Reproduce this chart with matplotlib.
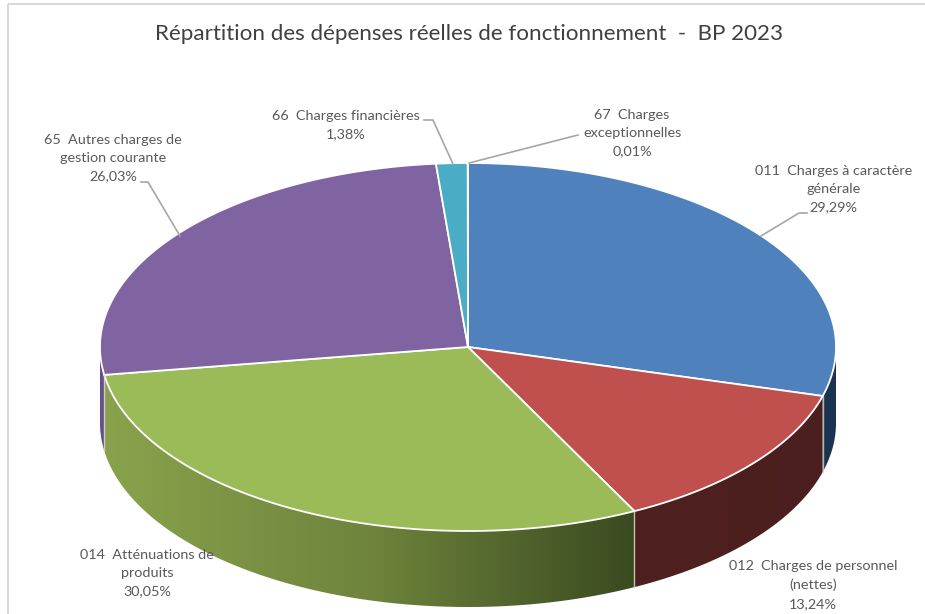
import numpy as np
import matplotlib
matplotlib.use("Agg")
import matplotlib.pyplot as plt
from matplotlib.colors import LinearSegmentedColormap
from matplotlib.patches import Polygon, Rectangle

plt.rcParams["font.family"] = ["Lato", "DejaVu Sans"]

# Données
titre = "Répartition des dépenses réelles de fonctionnement  -  BP 2023"
categories = [
    "011  Charges à caractère\ngénérale",
    "012  Charges de personnel\n(nettes)",
    "014  Atténuations de\nproduits",
    "65  Autres charges de\ngestion courante",
    "66  Charges financières",
    "67  Charges\nexceptionnelles",
]
valeurs = [29.29, 13.24, 30.05, 26.03, 1.38, 0.01]
couleurs = ["#4f81bd", "#c0504d", "#9bbb59", "#8064a2", "#4bacc6", "#f79646"]

# Dégradés des flancs (gauche -> droite)
flancs = [
    ["#1b3350", "#1b3350"],
    ["#4f2020", "#4b1f1f"],
    ["#88a34c", "#6f843c", "#3a4a20"],
    ["#66508c", "#66508c"],
    ["#2a6a7a", "#2a6a7a"],
    ["#94591f", "#94591f"],
]

# Géométrie de la tarte, en pixels
cx, cy = 468, 347
rx, ry = 368, 184
prof = 76

# Position des étiquettes et traits de rappel
pos_labels = [(833.5, 189), (813, 585), (147, 573), (113, 158), (346, 125), (632, 133)]
rappels = [
    [(761, 236), (799, 213), (807, 213)],
    None,
    None,
    [(180, 236), (148, 182), (141, 182)],
    [(453, 164), (433, 120), (424, 120)],
    [(469, 163), (578, 135)],
]


def point(angle):
    # angle en degrés, sens horaire depuis le haut
    a = np.radians(angle)
    return cx + rx * np.sin(a), cy - ry * np.cos(a)


fig = plt.figure(figsize=(9.25, 6.14), dpi=100)
ax = fig.add_axes([0, 0, 1, 1])
ax.axis("off")

# Cadre du graphique
ax.add_patch(Rectangle((7.5, 4), 1000, 1000, fill=False, ec="#d9d9d9", lw=1.5))

bornes = np.concatenate([[0], np.cumsum(valeurs)]) / sum(valeurs) * 360

# Flancs visibles (moitié avant)
for i in range(len(valeurs)):
    debut = max(bornes[i], 90)
    fin = min(bornes[i + 1], 270)
    if fin <= debut:
        continue
    t = np.linspace(debut, fin, 100)
    x, y = point(t)
    poly = np.vstack([np.column_stack([x, y]), np.column_stack([x, y + prof])[::-1]])
    patch = Polygon(poly, closed=True, fc="none", ec="none")
    ax.add_patch(patch)
    cmap = LinearSegmentedColormap.from_list("flanc", flancs[i])
    im = ax.imshow(
        np.linspace(0, 1, 256).reshape(1, -1),
        cmap=cmap,
        aspect="auto",
        extent=(x.min(), x.max(), y.max() + prof, y.min()),
    )
    im.set_clip_path(patch)

# Arêtes claires entre les flancs
for angle in bornes[1:4]:
    x, y = point(angle)
    ax.plot([x, x], [y, y + prof], color="#d8dccb", lw=1, alpha=0.8)

# Dessus de la tarte
for i in range(len(valeurs)):
    t = np.linspace(bornes[i], bornes[i + 1], 200)
    x, y = point(t)
    sommets = np.vstack([[cx, cy], np.column_stack([x, y])])
    ax.add_patch(Polygon(sommets, closed=True, fc=couleurs[i], ec="white", lw=1.3))

# Étiquettes
for i in range(len(valeurs)):
    texte = categories[i] + "\n" + f"{valeurs[i]:.2f}%".replace(".", ",")
    ax.text(pos_labels[i][0], pos_labels[i][1], texte, ha="center", va="center",
            multialignment="center", fontsize=10.4, color="#595959", linespacing=1.63)
    if rappels[i] is not None:
        xs, ys = zip(*rappels[i])
        ax.plot(xs, ys, color="#a6a6a6", lw=1.2)

ax.text(469, 34, titre, ha="center", va="center", fontsize=16.1, color="#404040")

ax.set_xlim(0, 925)
ax.set_ylim(614, 0)

plt.savefig("out.png", dpi=100)
